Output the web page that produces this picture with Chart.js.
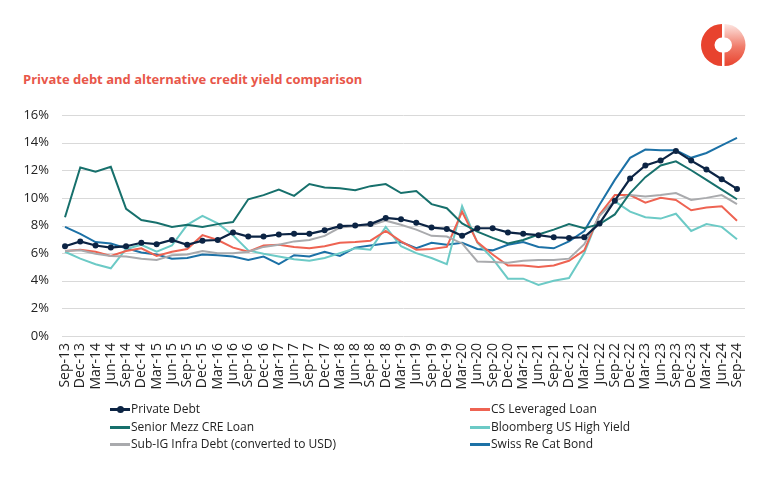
<!DOCTYPE html>
<html>
<head>
<meta charset="utf-8">
<script src="https://cdn.jsdelivr.net/npm/chart.js@4.4.1/dist/chart.umd.min.js"></script>
<style>
  html, body { margin:0; padding:0; background:#fff; }
  body { width:770px; height:490px; position:relative; overflow:hidden; font-family:"Open Sans", "Noto Sans", sans-serif; }
  #c { position:absolute; left:0; top:0; }
  #title { position:absolute; left:23px; top:70px; font-size:13px; font-weight:700; color:#e8574a; white-space:nowrap; line-height:18px; }
  .lg { position:absolute; font-size:12px; color:#222; white-space:nowrap; line-height:16px; height:16px; }
  .lg .sw { position:absolute; left:0; top:7px; width:20px; height:3px; }
  .lg .dot { position:absolute; left:7px; top:5px; width:7px; height:7px; border-radius:50%; }
  .lg span.t { position:absolute; left:21px; top:0; }
  #logo { position:absolute; left:699px; top:21px; }
</style>
</head>
<body>
<div id="title">Private debt and alternative credit yield comparison</div>
<svg id="logo" width="50" height="50" viewBox="0 0 50 50">
  <defs>
    <linearGradient id="g1" x1="0" y1="0" x2="0" y2="1">
      <stop offset="0" stop-color="#fde6e2"/>
      <stop offset="0.55" stop-color="#f07a68"/>
      <stop offset="1" stop-color="#e8432e"/>
    </linearGradient>
  </defs>
  <path d="M23 3 A21 21 0 0 0 23 45 L23 31.5 A7.5 7.5 0 0 1 23 16.5 Z" fill="#e8432e"/>
  <path d="M25.5 3 A21 21 0 0 1 25.5 45 L25.5 31.5 A7.5 7.5 0 0 0 25.5 16.5 Z" fill="url(#g1)"/>
</svg>
<canvas id="c" width="770" height="490"></canvas>
<div id="legend"></div>
<script>
const categories = ["Sep-13","Dec-13","Mar-14","Jun-14","Sep-14","Dec-14","Mar-15","Jun-15","Sep-15","Dec-15","Mar-16","Jun-16","Sep-16","Dec-16","Mar-17","Jun-17","Sep-17","Dec-17","Mar-18","Jun-18","Sep-18","Dec-18","Mar-19","Jun-19","Sep-19","Dec-19","Mar-20","Jun-20","Sep-20","Dec-20","Mar-21","Jun-21","Sep-21","Dec-21","Mar-22","Jun-22","Sep-22","Dec-22","Mar-23","Jun-23","Sep-23","Dec-23","Mar-24","Jun-24","Sep-24"];

const privateDebt = [6.5,6.85,6.55,6.4,6.5,6.75,6.65,6.95,6.6,6.9,6.95,7.5,7.2,7.2,7.35,7.4,7.4,7.65,7.95,8.0,8.1,8.55,8.45,8.2,7.85,7.75,7.25,7.8,7.8,7.5,7.4,7.3,7.15,7.1,7.15,8.15,9.8,11.4,12.35,12.7,13.4,12.7,12.05,11.35,10.65];
const seniorMezzCRE = [8.6,12.2,11.9,12.25,9.2,8.4,8.2,7.9,8.05,7.9,8.1,8.25,9.9,10.2,10.6,10.15,11.0,10.75,10.7,10.55,10.85,11.0,10.35,10.5,9.55,9.25,8.15,7.55,7.1,6.7,6.95,7.35,7.7,8.1,7.8,8.1,8.8,10.35,11.5,12.35,12.65,12.0,11.3,10.6,9.9];
const subIGInfra = [6.15,6.2,5.95,5.8,5.75,5.6,5.5,5.85,5.9,6.15,6.0,6.0,6.1,6.45,6.6,6.85,6.95,7.25,7.85,7.95,8.0,8.35,8.05,7.7,7.25,7.2,6.7,5.4,5.35,5.3,5.45,5.5,5.5,5.6,6.65,8.7,9.8,10.2,10.1,10.2,10.35,9.85,10.0,10.2,9.55];
const csLeveragedLoan = [6.15,6.25,6.1,5.8,6.15,6.35,5.8,6.1,6.3,7.3,6.95,6.4,6.1,6.55,6.6,6.45,6.35,6.5,6.75,6.8,6.9,7.6,6.85,6.25,6.3,6.45,9.0,6.8,5.9,5.1,5.1,5.0,5.1,5.45,6.2,8.8,10.2,10.2,9.65,10.0,9.85,9.1,9.3,9.4,8.35];
const bloombergHY = [6.1,5.6,5.2,4.9,6.3,6.6,6.1,6.55,8.05,8.7,8.15,7.3,6.2,5.95,5.75,5.55,5.45,5.65,6.0,6.35,6.25,7.9,6.5,6.0,5.65,5.2,9.4,6.75,5.6,4.15,4.15,3.7,4.0,4.2,6.0,8.8,9.75,9.0,8.6,8.5,8.85,7.6,8.1,7.9,7.0];
const swissReCatBond = [7.9,7.4,6.8,6.7,6.35,6.05,5.9,5.6,5.65,5.9,5.85,5.75,5.5,5.75,5.2,5.85,5.75,6.1,5.8,6.4,6.55,6.7,6.8,6.35,6.75,6.6,6.75,6.3,6.2,6.6,6.8,6.45,6.35,6.85,7.6,9.5,11.3,12.9,13.5,13.45,13.45,12.9,13.25,13.8,14.35];

const yTicks = [0,2,4,6,8,10,12,14,16];

const seriesNames = ["Private Debt","Senior Mezz CRE Loan","Sub-IG Infra Debt (converted to USD)","CS Leveraged Loan","Bloomberg US High Yield","Swiss Re Cat Bond"];
const seriesColors = ["#0c2444","#17706c","#a9aaad","#ee6352","#6ccac6","#1c71a6"];
const seriesData = [privateDebt, seniorMezzCRE, subIGInfra, csLeveragedLoan, bloombergHY, swissReCatBond];

const datasets = seriesData.map((d, i) => ({
  label: seriesNames[i],
  data: d,
  borderColor: seriesColors[i],
  backgroundColor: seriesColors[i],
  borderWidth: i === 0 ? 2.2 : 2,
  pointRadius: i === 0 ? 3 : 0,
  pointHoverRadius: 0,
  pointBorderWidth: 0,
  tension: 0,
  fill: false
}));

const gridPlugin = {
  id: 'wideGrid',
  beforeDatasetsDraw(chart) {
    const ctx = chart.ctx, y = chart.scales.y;
    ctx.save();
    ctx.strokeStyle = '#d9d9d9';
    ctx.lineWidth = 1;
    y.ticks.forEach(t => {
      const py = Math.round(y.getPixelForValue(t.value)) + 0.5;
      ctx.beginPath();
      ctx.moveTo(62, py);
      ctx.lineTo(745, py);
      ctx.stroke();
    });
    ctx.restore();
  }
};

new Chart(document.getElementById('c'), {
  type: 'line',
  data: { labels: categories, datasets },
  options: {
    responsive: false,
    animation: false,
    devicePixelRatio: 1,
    layout: { padding: { top: 115, left: 0, right: 33, bottom: 94 } },
    plugins: { legend: { display: false }, title: { display: false }, tooltip: { enabled: false } },
    scales: {
      x: {
        offset: false,
        grid: { display: false, drawTicks: false },
        border: { display: false },
        ticks: { autoSkip: false, maxRotation: 90, minRotation: 90, padding: 7, color: '#222', font: { family: 'Open Sans', size: 14 } },
        afterFit(s) { s.height = 60; }
      },
      y: {
        min: 0, max: 16,
        afterBuildTicks(s) { s.ticks = yTicks.map(v => ({ value: v })); },
        grid: { display: false, drawTicks: false },
        border: { display: false },
        ticks: { padding: 16, color: '#222', font: { family: 'Open Sans', size: 13 }, callback: v => v + '%' },
        afterFit(s) { s.width = 65; }
      }
    }
  },
  plugins: [gridPlugin]
});

// HTML legend (2 columns x 3 rows)
const legendOrder = [[0,3],[1,4],[2,5]];
const colX = [110, 470];
const rowY = [401, 418.5, 436];
const lg = document.getElementById('legend');
legendOrder.forEach((row, r) => row.forEach((si, c) => {
  const el = document.createElement('div');
  el.className = 'lg';
  el.style.left = colX[c] + 'px';
  el.style.top = rowY[r] + 'px';
  let html = '<div class="sw" style="background:' + seriesColors[si] + '"></div>';
  if (si === 0) html += '<div class="dot" style="background:' + seriesColors[si] + '"></div>';
  html += '<span class="t">' + seriesNames[si] + '</span>';
  el.innerHTML = html;
  lg.appendChild(el);
}));
</script>
</body>
</html>
